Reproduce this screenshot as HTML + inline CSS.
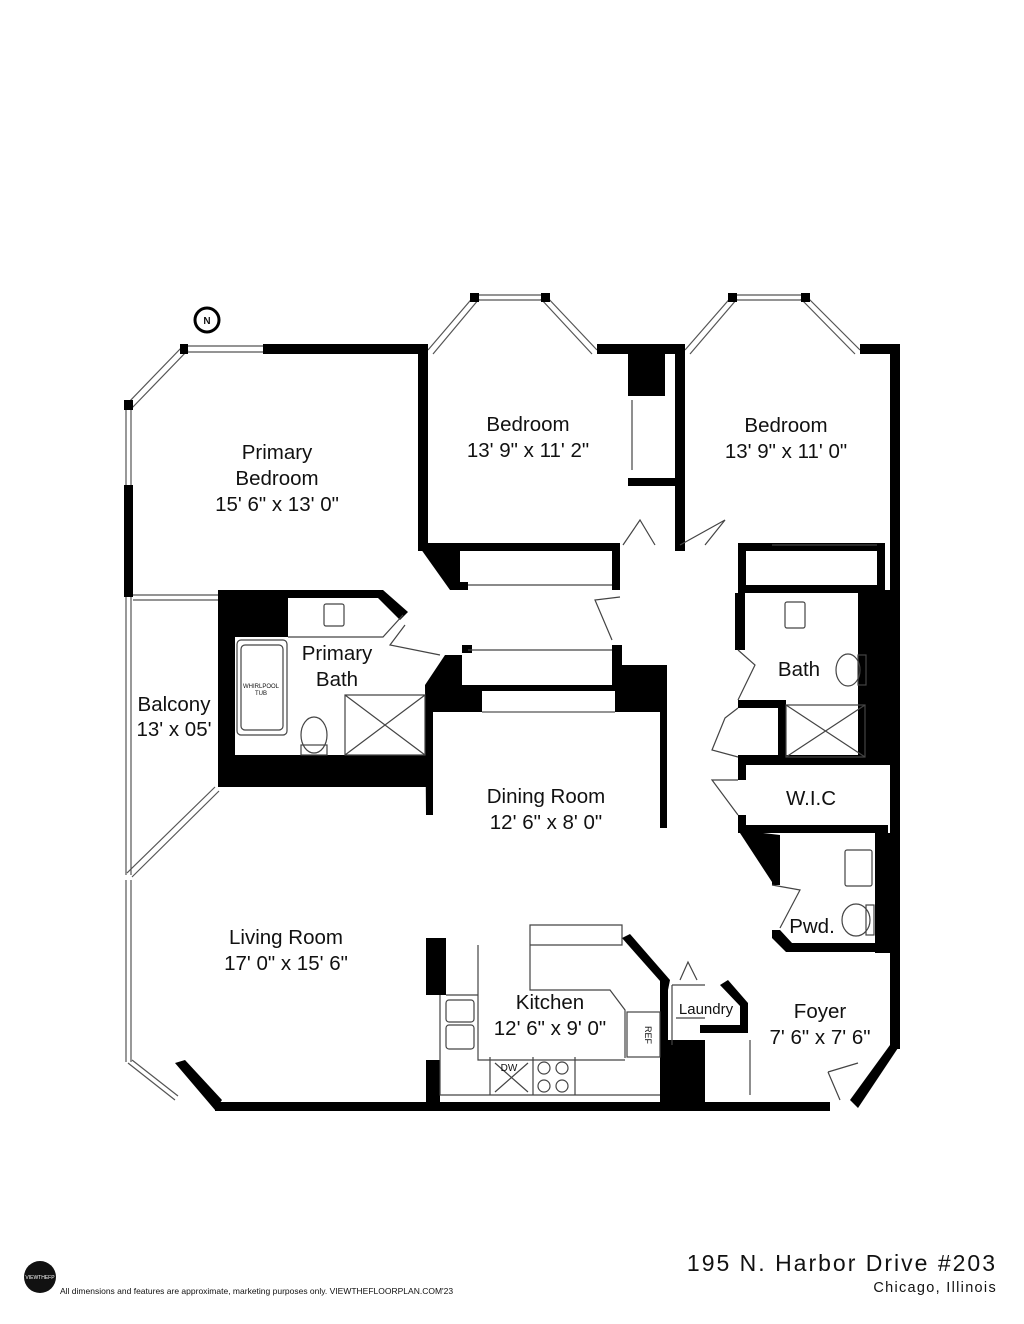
<!DOCTYPE html>
<html><head><meta charset="utf-8"><style>
html,body{margin:0;padding:0;background:#fff}
svg{display:block}
text{font-family:"Liberation Sans",sans-serif;fill:#111}
</style></head><body>
<svg width="1024" height="1324" viewBox="0 0 1024 1324" xmlns="http://www.w3.org/2000/svg">
<rect width="1024" height="1324" fill="#fff"/>
<g fill="none" stroke="#555" stroke-width="1.2">
<path d="M186,346 L263,346 M186,352 L263,352"/>
<path d="M126,405 L183,346 M131,409 L188,350"/>
<path d="M126,405 L126,485 M131,405 L131,485"/>
<path d="M126,597 L126,875 M131,597 L131,875"/>
<path d="M133,595 L218,595 M133,600 L218,600"/>
<path d="M215,787 L127,873 M219,791 L132,877"/>
<path d="M126,880 L126,1062 M131,880 L131,1062"/>
<path d="M128,1063 L175,1100 M132,1060 L178,1096"/>
<path d="M428,350 L475,295 M433,354 L479,299"/>
<path d="M475,295 L545,295 M475,300 L545,300"/>
<path d="M545,295 L597,350 M541,299 L592,354"/>
<path d="M685,350 L733,295 M690,354 L737,299"/>
<path d="M733,295 L805,295 M733,300 L805,300"/>
<path d="M805,295 L860,350 M801,299 L855,354"/>
<path d="M482,690 L615,690 M482,712 L615,712"/>
</g>
<g fill="#000">
<rect x="180" y="344" width="8" height="10"/><rect x="124" y="400" width="9" height="10"/>
<rect x="470" y="293" width="9" height="9"/><rect x="541" y="293" width="9" height="9"/>
<rect x="728" y="293" width="9" height="9"/><rect x="801" y="293" width="9" height="9"/>
<rect x="263" y="344" width="165" height="10"/>
<rect x="124" y="485" width="9" height="112"/>
<rect x="418" y="344" width="10" height="205"/>
<rect x="597" y="344" width="88" height="10"/>
<rect x="628" y="344" width="37" height="52"/>
<rect x="628" y="478" width="52" height="8"/>
<rect x="675" y="344" width="10" height="205"/>
<rect x="860" y="344" width="40" height="10"/>
<rect x="890" y="344" width="10" height="705"/>
<polygon points="890,1045 900,1045 858,1108 850,1100"/>
<polygon points="175,1063 185,1060 222,1100 215,1110"/>
<rect x="215" y="1102" width="615" height="9"/>
<rect x="418" y="543" width="202" height="8"/>
<polygon points="418,545 460,545 460,590 450,590"/>
<rect x="460" y="582" width="8" height="8"/><rect x="612" y="548" width="8" height="42"/>
<rect x="612" y="582" width="8" height="8"/>
<rect x="675" y="543" width="10" height="8"/>
<rect x="738" y="543" width="147" height="8"/>
<rect x="738" y="543" width="8" height="50"/>
<rect x="738" y="585" width="147" height="8"/>
<rect x="877" y="543" width="8" height="50"/>
<rect x="218" y="590" width="70" height="47"/>
<rect x="218" y="590" width="17" height="197"/>
<polygon points="288,590 383,590 408,612 400,620 378,598 288,598"/>
<rect x="218" y="755" width="215" height="32"/>
<polygon points="425,685 445,655 462,655 462,685 482,685 482,712 433,712 433,815 426,815"/>
<rect x="462" y="685" width="158" height="6"/>
<rect x="612" y="645" width="10" height="45"/>
<rect x="615" y="665" width="52" height="47"/>
<rect x="660" y="665" width="7" height="163"/>
<rect x="462" y="645" width="10" height="8"/>
<rect x="858" y="590" width="32" height="175"/>
<rect x="735" y="593" width="10" height="57"/>
<rect x="738" y="700" width="47" height="8"/>
<rect x="778" y="700" width="8" height="60"/>
<rect x="738" y="755" width="150" height="10"/>
<rect x="738" y="765" width="8" height="15"/>
<rect x="738" y="815" width="8" height="17"/>
<rect x="738" y="825" width="150" height="8"/>
<polygon points="738,830 780,835 780,882 772,882"/>
<rect x="772" y="838" width="8" height="47"/>
<rect x="875" y="833" width="15" height="120"/>
<polygon points="772,930 780,930 792,943 880,943 880,952 786,952 772,938"/>
<rect x="426" y="938" width="20" height="57"/>
<rect x="426" y="1060" width="14" height="45"/>
<polygon points="622,938 630,934 670,980 668,990"/>
<rect x="660" y="980" width="8" height="125"/>
<rect x="668" y="1040" width="37" height="65"/>
<polygon points="720,985 728,980 748,1003 748,1025 740,1025 740,1006"/>
<rect x="700" y="1025" width="48" height="8"/>
</g>
<g fill="none" stroke="#444" stroke-width="1.2">
<path d="M632,400 L632,470"/>
<path d="M468,585 L612,585 M468,650 L612,650"/>
<path d="M772,545 L877,545"/>
<path d="M288,637 L383,637 L403,615"/>
<path d="M623,545 L640,520 L655,545 M705,545 L725,520 L680,545"/>
<path d="M620,597 L595,600 L612,640"/>
<path d="M405,625 L390,645 L440,655"/>
<path d="M738,650 L755,665 L738,700"/>
<path d="M738,708 L725,718 L712,750 L738,757"/>
<path d="M738,780 L712,780 L738,815"/>
<path d="M772,885 L800,890 L780,928"/>
<path d="M345,695 L425,695 L425,755 L345,755 Z M345,695 L425,755 M425,695 L345,755"/>
<path d="M786,705 L865,705 L865,757 L786,757 Z M786,705 L865,757 M865,705 L786,757"/>
<rect x="237" y="640" width="50" height="95" rx="4"/><rect x="241" y="645" width="42" height="85" rx="4"/>
<rect x="324" y="604" width="20" height="22" rx="2"/>
<rect x="785" y="602" width="20" height="26" rx="2"/>
<rect x="845" y="850" width="27" height="36" rx="2"/>
<ellipse cx="314" cy="735" rx="13" ry="18"/><rect x="301" y="745" width="26" height="10"/>
<ellipse cx="848" cy="670" rx="12" ry="16"/><rect x="858" y="655" width="8" height="30"/>
<ellipse cx="856" cy="920" rx="14" ry="16"/><rect x="866" y="905" width="8" height="30"/>
<path d="M440,995 L440,1060 M478,945 L478,1060 L625,1060 M446,995 L478,995"/>
<rect x="446" y="1000" width="28" height="22" rx="3"/><rect x="446" y="1025" width="28" height="24" rx="3"/>
<path d="M530,925 L622,925 L622,945 L530,945 Z M530,945 L530,990 L610,990 L625,1010 L625,1058"/>
<path d="M440,1060 L440,1095 L660,1095 M490,1057 L490,1095 M533,1057 L533,1095 M575,1057 L575,1095"/>
<path d="M495,1063 L528,1092 M528,1063 L495,1092"/>
<rect x="627" y="1012" width="33" height="45"/>
<circle cx="544" cy="1068" r="6"/><circle cx="562" cy="1068" r="6"/><circle cx="544" cy="1086" r="6"/><circle cx="562" cy="1086" r="6"/>
<path d="M672,985 L705,985 M672,985 L672,1045 M676,1018 L705,1018 M680,980 L688,962 L697,980"/>
<path d="M750,1040 L750,1095"/>
<path d="M828,1072 L858,1063 M828,1072 L840,1100"/>
</g>
<circle cx="207" cy="320" r="12" fill="#fff" stroke="#000" stroke-width="3"/>
<text x="207" y="324" font-size="10" text-anchor="middle" font-weight="bold">N</text>
<g font-size="20.5" text-anchor="middle">
<text x="277" y="459">Primary</text><text x="277" y="485">Bedroom</text><text x="277" y="511">15' 6" x 13' 0"</text>
<text x="528" y="431">Bedroom</text><text x="528" y="457">13' 9" x 11' 2"</text>
<text x="786" y="432">Bedroom</text><text x="786" y="458">13' 9" x 11' 0"</text>
<text x="337" y="660">Primary</text><text x="337" y="686">Bath</text>
<text x="174" y="711">Balcony</text><text x="174" y="736">13' x 05'</text>
<text x="799" y="676">Bath</text>
<text x="546" y="803">Dining Room</text><text x="546" y="829">12' 6" x 8' 0"</text>
<text x="811" y="805">W.I.C</text>
<text x="286" y="944">Living Room</text><text x="286" y="970">17' 0" x 15' 6"</text>
<text x="812" y="933">Pwd.</text>
<text x="550" y="1009">Kitchen</text><text x="550" y="1035">12' 6" x 9' 0"</text>
<text x="820" y="1018">Foyer</text><text x="820" y="1044">7' 6" x 7' 6"</text>
</g>
<text x="706" y="1014" font-size="15" text-anchor="middle">Laundry</text>
<text x="261" y="688" font-size="6" text-anchor="middle">WHIRLPOOL</text><text x="261" y="695" font-size="6" text-anchor="middle">TUB</text>
<text x="509" y="1071" font-size="10" text-anchor="middle">DW</text>
<text x="645" y="1035" font-size="9" text-anchor="middle" transform="rotate(90 645 1035)">REF</text>
<circle cx="40" cy="1277" r="16" fill="#111"/>
<text x="40" y="1279" font-size="5" text-anchor="middle" style="fill:#fff">VIEWTHEFP</text>
<text x="60" y="1294" font-size="8.5">All dimensions and features are approximate, marketing purposes only. VIEWTHEFLOORPLAN.COM'23</text>
<text x="997" y="1271" font-size="23" text-anchor="end" letter-spacing="2">195 N. Harbor Drive #203</text>
<text x="997" y="1292" font-size="14.5" text-anchor="end" letter-spacing="1.3">Chicago, Illinois</text>
</svg>
</body></html>
